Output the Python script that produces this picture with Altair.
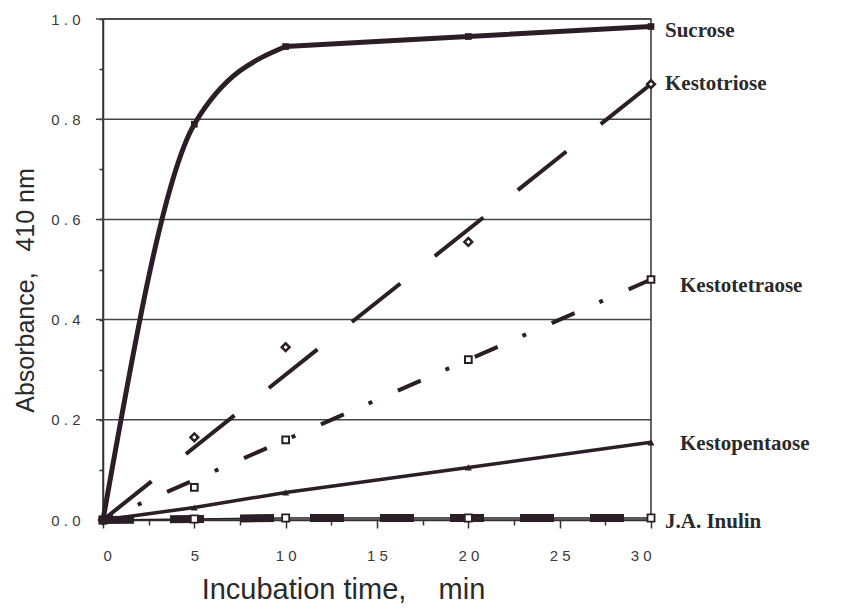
import altair as alt
import pandas as pd

# ---- data ----
time = [0, 5, 10, 20, 30]
sucrose = [0.0, 0.79, 0.945, 0.965, 0.985]
kestotriose = [0.0, 0.165, 0.345, 0.555, 0.87]
kestotetraose = [0.0, 0.065, 0.16, 0.32, 0.48]
kestopentaose = [0.0, 0.025, 0.055, 0.105, 0.155]
inulin = [0.0, 0.002, 0.004, 0.004, 0.004]

fit_time = [0, 30]
kestotriose_fit = [0.0, 0.87]
kestotetraose_fit = [0.0, 0.48]

series_names = ["Sucrose", "Kestotriose", "Kestotetraose", "Kestopentaose", "J.A. Inulin"]
label_values = [0.976, 0.87, 0.467, 0.152, -0.004]

grid_values = [0.2, 0.4, 0.6, 0.8, 1.0]
x_tick_values = [0, 2.5, 5, 7.5, 10, 12.5, 15, 17.5, 20, 22.5, 25, 27.5, 30]
y_tick_values = [0.0, 0.1, 0.2, 0.3, 0.4, 0.5, 0.6, 0.7, 0.8, 0.9, 1.0]

INK = "#2b1e27"
AX = "#333333"
LBL = "#3a3a3a"
NB = "\u00a0"


def frame(ts, vs):
    return pd.DataFrame({"t": ts, "v": vs})


xscale = alt.Scale(domain=[0, 30], nice=False, zero=False)
yscale = alt.Scale(domain=[0, 1], nice=False)

xaxis = alt.Axis(
    values=x_tick_values,
    labelExpr="datum.value % 5 == 0 ? join(split(toString(datum.value), ''), ' ') : ''",
    tickSize={"condition": {"test": "datum.value % 5 == 0", "value": 8}, "value": 5},
    labelPadding=20,
    labelFont="Liberation Sans",
    labelFontSize=15,
    labelColor=LBL,
    labelOverlap=False,
    title="Incubation time," + NB * 4 + "min",
    titleFont="Liberation Sans",
    titleFontSize=29,
    titleFontWeight="normal",
    titleColor="#2a2a2a",
    titleX=240,
    titleY=78,
    titleAlign="center",
    titleBaseline="alphabetic",
    grid=False,
    domainColor=AX,
    domainWidth=1.5,
    tickColor=AX,
    tickWidth=1.5,
)

yaxis = alt.Axis(
    values=y_tick_values,
    labelExpr="round(datum.value * 10) % 2 == 0 ? join(split(format(datum.value, '.1f'), ''), ' ') : ''",
    tickSize=4,
    labelPadding=19,
    labelFont="Liberation Sans",
    labelFontSize=15,
    labelColor=LBL,
    labelOverlap=False,
    title="Absorbance," + NB * 3 + "410 nm",
    titleFont="Liberation Sans",
    titleFontSize=25,
    titleFontWeight="normal",
    titleColor="#2a2a2a",
    titleAngle=-90,
    titleX=-70,
    titleY=271,
    titleAlign="center",
    titleBaseline="alphabetic",
    grid=False,
    domainColor=AX,
    domainWidth=1.5,
    tickColor=AX,
    tickWidth=1.5,
)


def X():
    return alt.X("t:Q", scale=xscale, axis=xaxis)


def Y():
    return alt.Y("v:Q", scale=yscale, axis=yaxis)


grid = alt.Chart(pd.DataFrame({"v": grid_values})).mark_rule(
    color="#444444", strokeWidth=1.5
).encode(y=Y(), x=alt.value(-7), x2=alt.value(548))

# Sucrose (smoothed rise up to 10 min, then the plateau)
suc_df = frame(time, sucrose)
suc_rise = alt.Chart(suc_df).transform_filter("datum.t <= 10").mark_line(
    color=INK, strokeWidth=5, interpolate="monotone", strokeCap="round"
).encode(x=X(), y=Y())
suc_plateau = alt.Chart(suc_df).transform_filter("datum.t >= 10").mark_line(
    color=INK, strokeWidth=5, interpolate="monotone", strokeCap="round"
).encode(x=X(), y=Y())
suc_pts = alt.Chart(suc_df).mark_point(
    shape="square", filled=True, size=45, color=INK, opacity=1
).encode(x=X(), y=Y())

# Kestotriose
tri_line = alt.Chart(frame(fit_time, kestotriose_fit)).mark_line(
    color=INK, strokeWidth=4, strokeDash=[62, 44], strokeCap="butt"
).encode(x=X(), y=Y())
tri_pts = alt.Chart(frame(time, kestotriose)).mark_point(
    shape="diamond", size=60, fill="white", stroke=INK, strokeWidth=2.5, opacity=1, fillOpacity=1
).encode(x=X(), y=Y())

# Kestotetraose
tet_line = alt.Chart(frame(fit_time, kestotetraose_fit)).mark_line(
    color=INK, strokeWidth=4, strokeDash=[25, 27, 4, 28], strokeDashOffset=14, strokeCap="butt"
).encode(x=X(), y=Y())
tet_pts = alt.Chart(frame(time, kestotetraose)).mark_point(
    shape="square", size=45, fill="white", stroke=INK, strokeWidth=2, opacity=1, fillOpacity=1
).encode(x=X(), y=Y())

# Kestopentaose
pen_line = alt.Chart(frame(time, kestopentaose)).mark_line(
    color=INK, strokeWidth=3.5
).encode(x=X(), y=Y())
pen_pts = alt.Chart(frame(time, kestopentaose)).mark_point(
    shape="triangle-up", filled=True, size=50, color=INK, opacity=1
).encode(x=X(), y=Y())

# J.A. Inulin
inu_thick = alt.Chart(frame(time, inulin)).mark_line(
    color=INK, strokeWidth=8, strokeDash=[34, 36], strokeDashOffset=3, strokeCap="butt"
).encode(x=X(), y=Y())
inu_thin = alt.Chart(frame(time, inulin)).mark_line(
    color=INK, strokeWidth=1.5
).encode(x=X(), y=Y())
inu_pts = alt.Chart(frame(time, inulin)).mark_point(
    shape="square", size=50, fill="white", stroke=INK, strokeWidth=1.8, opacity=1, fillOpacity=1
).encode(x=X(), y=Y())

labels_df = pd.DataFrame({"t": [30] * len(series_names), "v": label_values, "name": series_names})
text_style = dict(
    font="Liberation Serif", fontWeight="bold", fontSize=21, align="left",
    baseline="middle", color="#2a2a2a",
)
labels_near = alt.Chart(labels_df).transform_filter(
    alt.FieldOneOfPredicate(field="name", oneOf=["Sucrose", "Kestotriose", "J.A. Inulin"])
).mark_text(dx=14, **text_style).encode(x=X(), y=Y(), text="name:N")
labels_far = alt.Chart(labels_df).transform_filter(
    alt.FieldOneOfPredicate(field="name", oneOf=["Kestotetraose", "Kestopentaose"])
).mark_text(dx=29, **text_style).encode(x=X(), y=Y(), text="name:N")

chart = alt.layer(
    grid,
    inu_thin, inu_thick,
    pen_line, tet_line, tri_line, suc_rise, suc_plateau,
    inu_pts, pen_pts, tet_pts, tri_pts, suc_pts,
    labels_near, labels_far,
).properties(
    width=548,
    height=501,
    autosize=alt.AutoSizeParams(type="none"),
    padding={"left": 103, "top": 19, "right": 191, "bottom": 91},
    background="white",
).configure_view(stroke=AX, strokeWidth=1.5)

chart.save("out.html", embed_options={"renderer": "svg", "actions": False})
